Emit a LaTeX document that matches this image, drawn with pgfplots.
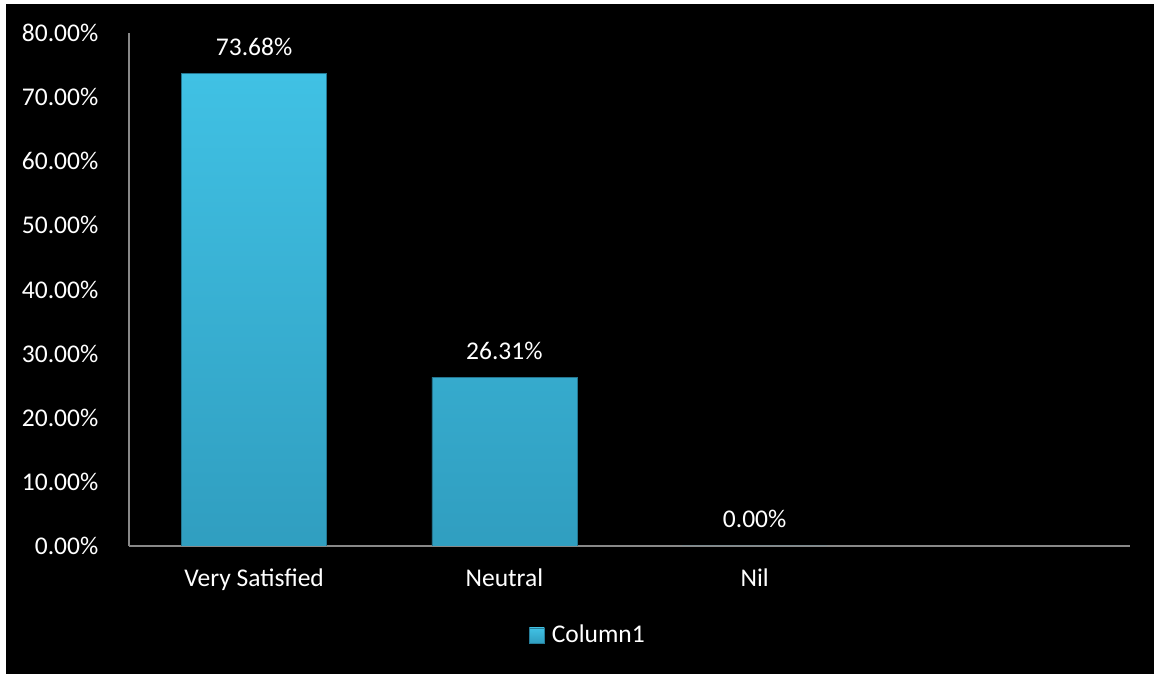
\documentclass[border=0pt]{standalone}
\usepackage{pgfplots}
\pgfplotsset{compat=1.18}
\usepackage{fontspec}
\setmainfont{Carlito}
\definecolor{bartop}{RGB}{64,193,228}
\definecolor{barbot}{RGB}{48,158,192}
\definecolor{axgray}{RGB}{136,136,136}
\newcommand{\chartfont}{\fontsize{25.5}{30}\selectfont}
\begin{document}
\chartfont
\begin{tikzpicture}[x=1pt,y=1pt]
\path[use as bounding box] (0,0) rectangle (1154,674);
\fill[white] (0,0) rectangle (1154,674);
\fill[black] (6,0) rectangle (1154,670);
\begin{axis}[
  at={(129pt,128pt)}, anchor=south west,
  scale only axis, width=1001pt, height=513pt,
  xmin=-0.5, xmax=3.5, ymin=0, ymax=80,
  ybar, bar width=145pt,
  axis x line*=bottom, axis y line*=left,
  axis line style={axgray, line width=1.3pt},
  x axis line style={-}, y axis line style={-},
  major tick length=0pt,
  xtick={0,1,2}, xticklabels={Very Satisfied, Neutral, Nil},
  ytick={0,10,...,80},
  yticklabel={\pgfmathprintnumber[fixed,zerofill,precision=2]{\tick}\%},
  /pgf/number format/assume math mode=true,
  ticklabel style={font=\chartfont, text=white},
  yticklabel style={xshift=-22pt},
  xticklabel style={yshift=-14pt},
  nodes near coords, point meta=explicit symbolic,
  nodes near coords style={font=\chartfont, text=white, yshift=9pt},
  legend style={at={(axis description cs:0.4585,-0.1754)}, anchor=center, draw=none, fill=none, text=white, font=\chartfont, /tikz/every odd column/.append style={column sep=5pt}},
  legend image code/.code={\shade[top color=bartop, bottom color=barbot, draw=barbot!80!black] (0pt,-7pt) rectangle (15pt,8pt);},
]
\addplot[draw=barbot!75!black, line width=0.6pt, top color=bartop, bottom color=barbot] coordinates {
  (0,73.68) [73.68\%]
  (1,26.31) [26.31\%]
  (2,0) [0.00\%]
};
\addlegendentry{Column1}
\end{axis}
\end{tikzpicture}
\end{document}
